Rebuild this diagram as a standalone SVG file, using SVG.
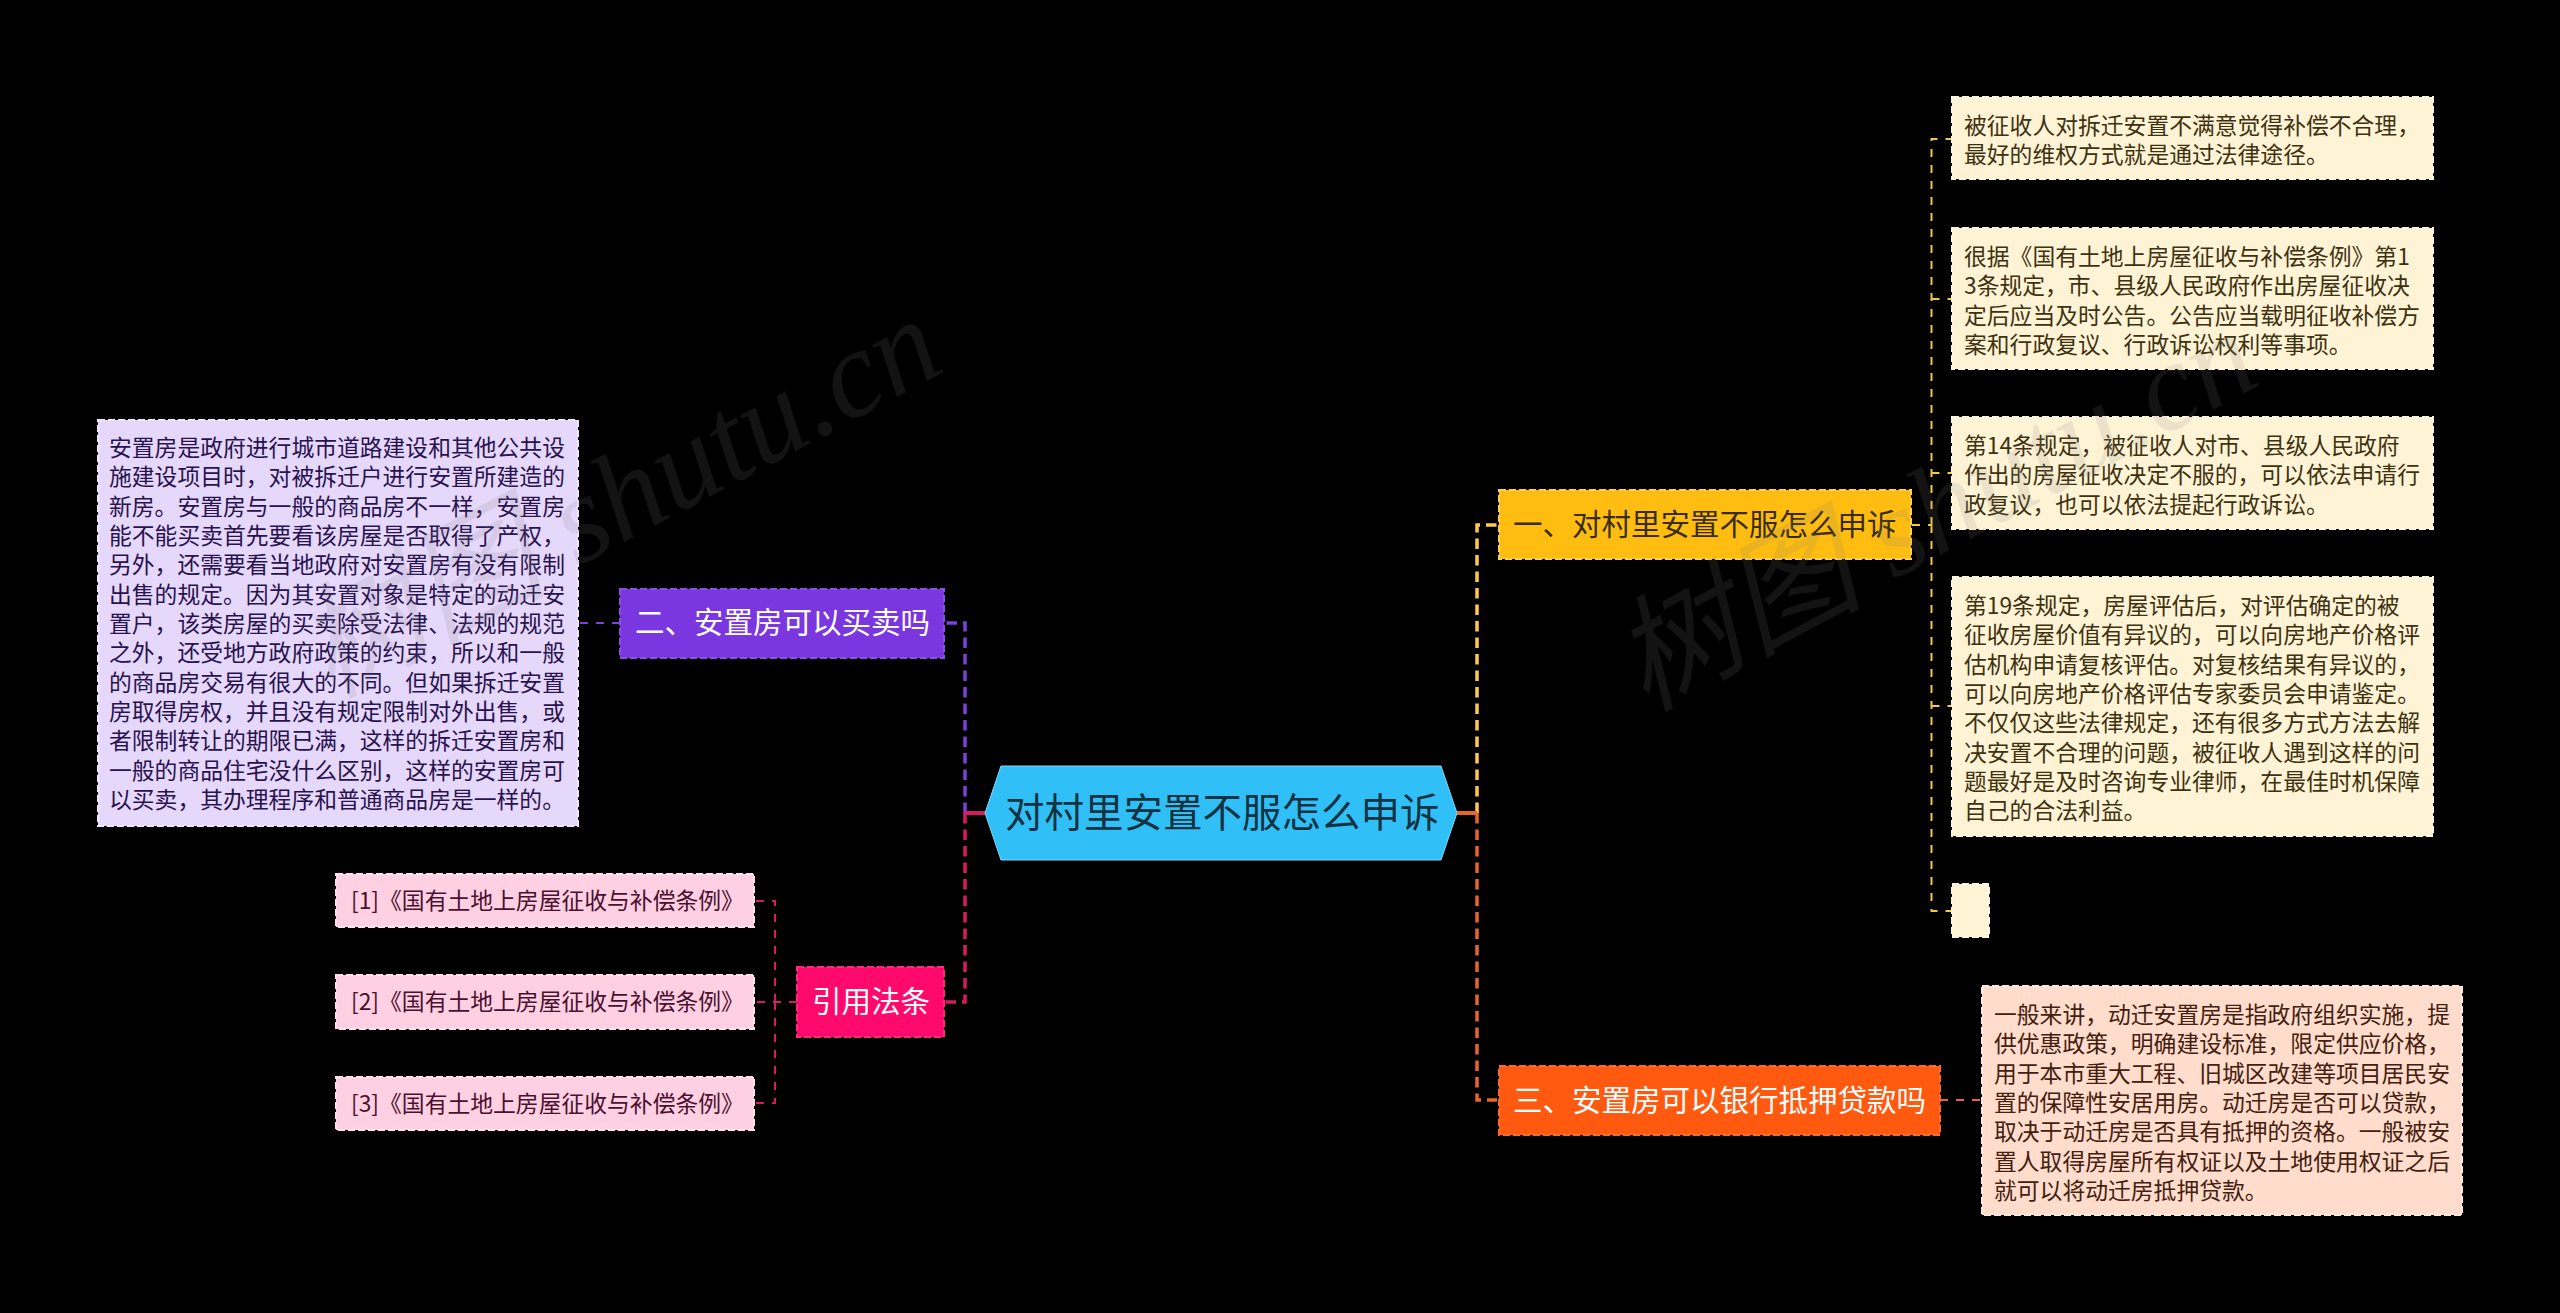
<svg xmlns="http://www.w3.org/2000/svg" width="2560" height="1313" viewBox="0 0 2560 1313">
<style>
text{font-family:"Noto Sans CJK SC","Noto Sans",sans-serif}
.c{fill:none;stroke-width:2;stroke-dasharray:8 8}
.k{fill:none;stroke-width:3.500;stroke-dasharray:10.500 6}
.n{stroke-width:2;stroke-dasharray:7 3}
.t{font-size:22.8px}
.h{font-size:29.500px}
.wm{font-family:"Liberation Serif","Noto Sans CJK SC",serif;font-style:italic;font-size:125px;fill:#808080;fill-opacity:.15}
</style>
<rect width="2560" height="1313" fill="#000"/>
<g id="connectors">
<path class="k" stroke="#ffc94d" d="M1477 813V525H1497"/>
<path class="k" stroke="#e8662a" d="M1477 813V1100H1497"/>
<path class="k" stroke="#7d3fd9" d="M965 813V623H945"/>
<path class="k" stroke="#d81b60" d="M965 813V1002H945"/>
<path d="M1457 813H1477" stroke="#e8662a" stroke-width="4"/>
<path d="M985 813H965" stroke="#d81b60" stroke-width="4"/>
<path class="c" stroke="#f5c842" d="M1912 525H1931.500M1931.500 525V139H1952"/>
<path class="c" stroke="#f5c842" d="M1931.500 299H1952M1931.500 473H1952M1931.500 706H1952"/>
<path class="c" stroke="#f5c842" d="M1931.500 525V911H1952"/>
<path class="c" stroke="#e8662a" d="M1940 1100H1982"/>
<path class="c" stroke="#7d3fd9" d="M620 623H578"/>
<path class="c" stroke="#d81b60" d="M797 1002H754M775 1002V901H754M775 1002V1103H754"/>
</g>
<g id="root">
<polygon points="1001,766 1441,766 1457,813 1441,860 1001,860 985,813" fill="#30c0f7" stroke="#7fd8fa" stroke-width="1"/>
<text x="1005" y="827" font-size="39.500" fill="#14323f">对村里安置不服怎么申诉</text>
</g>
<g id="b1">
<rect class="n" x="1499" y="490" width="412" height="69" fill="#ffbd11" stroke="#ffcf4d"/>
<text class="h" x="1513" y="535" fill="#3a2c05">一、对村里安置不服怎么申诉</text>
</g>
<g id="b2">
<rect class="n" x="620" y="589" width="324" height="69" fill="#7a37e0" stroke="#8a4fe8"/>
<text class="h" x="635" y="633" fill="#fff">二、安置房可以买卖吗</text>
</g>
<g id="b3">
<rect class="n" x="797" y="967" width="147" height="70" fill="#ff0a6c" stroke="#ff2a80"/>
<text class="h" x="812" y="1012" fill="#fff">引用法条</text>
</g>
<g id="b4">
<rect class="n" x="1499" y="1066" width="441" height="69" fill="#ff5a10" stroke="#ff6a28"/>
<text class="h" x="1513" y="1111" fill="#fff">三、安置房可以银行抵押贷款吗</text>
</g>
<g id="r1" fill="#3d3210">
<rect class="n" x="1952" y="97" width="481" height="82" fill="#fff3d6" stroke="#fff6e0"/>
<text class="t" x="1964" y="134">被征收人对拆迁安置不满意觉得补偿不合理，</text>
<text class="t" x="1964" y="163">最好的维权方式就是通过法律途径。</text>
</g>
<g id="r2" fill="#3d3210">
<rect class="n" x="1952" y="228" width="481" height="141" fill="#fff3d6" stroke="#fff6e0"/>
<text class="t" x="1964" y="265">很据《国有土地上房屋征收与补偿条例》第1</text>
<text class="t" x="1964" y="294">3条规定，市、县级人民政府作出房屋征收决</text>
<text class="t" x="1964" y="324">定后应当及时公告。公告应当载明征收补偿方</text>
<text class="t" x="1964" y="353">案和行政复议、行政诉讼权利等事项。</text>
</g>
<g id="r3" fill="#3d3210">
<rect class="n" x="1952" y="417" width="481" height="112" fill="#fff3d6" stroke="#fff6e0"/>
<text class="t" x="1964" y="454">第14条规定，被征收人对市、县级人民政府</text>
<text class="t" x="1964" y="483">作出的房屋征收决定不服的，可以依法申请行</text>
<text class="t" x="1964" y="513">政复议，也可以依法提起行政诉讼。</text>
</g>
<g id="r4" fill="#3d3210">
<rect class="n" x="1952" y="577" width="481" height="259" fill="#fff3d6" stroke="#fff6e0"/>
<text class="t" x="1964" y="614">第19条规定，房屋评估后，对评估确定的被</text>
<text class="t" x="1964" y="643">征收房屋价值有异议的，可以向房地产价格评</text>
<text class="t" x="1964" y="673">估机构申请复核评估。对复核结果有异议的，</text>
<text class="t" x="1964" y="702">可以向房地产价格评估专家委员会申请鉴定。</text>
<text class="t" x="1964" y="731">不仅仅这些法律规定，还有很多方式方法去解</text>
<text class="t" x="1964" y="761">决安置不合理的问题，被征收人遇到这样的问</text>
<text class="t" x="1964" y="790">题最好是及时咨询专业律师，在最佳时机保障</text>
<text class="t" x="1964" y="819">自己的合法利益。</text>
</g>
<g id="r5">
<rect class="n" x="1952" y="884" width="37" height="53" fill="#fff3d6" stroke="#fff6e0"/>
</g>
<g id="r6" fill="#43200f">
<rect class="n" x="1982" y="986" width="480" height="229" fill="#ffdccb" stroke="#ffe6da"/>
<text class="t" x="1994" y="1023">一般来讲，动迁安置房是指政府组织实施，提</text>
<text class="t" x="1994" y="1052">供优惠政策，明确建设标准，限定供应价格，</text>
<text class="t" x="1994" y="1082">用于本市重大工程、旧城区改建等项目居民安</text>
<text class="t" x="1994" y="1111">置的保障性安居用房。动迁房是否可以贷款，</text>
<text class="t" x="1994" y="1140">取决于动迁房是否具有抵押的资格。一般被安</text>
<text class="t" x="1994" y="1170">置人取得房屋所有权证以及土地使用权证之后</text>
<text class="t" x="1994" y="1199">就可以将动迁房抵押贷款。</text>
</g>
<g id="l1" fill="#28124f">
<rect class="n" x="98" y="420" width="480" height="406" fill="#e6d8fb" stroke="#eee4fc"/>
<text class="t" x="109" y="456">安置房是政府进行城市道路建设和其他公共设</text>
<text class="t" x="109" y="485">施建设项目时，对被拆迁户进行安置所建造的</text>
<text class="t" x="109" y="515">新房。安置房与一般的商品房不一样，安置房</text>
<text class="t" x="109" y="544">能不能买卖首先要看该房屋是否取得了产权，</text>
<text class="t" x="109" y="573">另外，还需要看当地政府对安置房有没有限制</text>
<text class="t" x="109" y="603">出售的规定。因为其安置对象是特定的动迁安</text>
<text class="t" x="109" y="632">置户，该类房屋的买卖除受法律、法规的规范</text>
<text class="t" x="109" y="661">之外，还受地方政府政策的约束，所以和一般</text>
<text class="t" x="109" y="691">的商品房交易有很大的不同。但如果拆迁安置</text>
<text class="t" x="109" y="720">房取得房权，并且没有规定限制对外出售，或</text>
<text class="t" x="109" y="749">者限制转让的期限已满，这样的拆迁安置房和</text>
<text class="t" x="109" y="779">一般的商品住宅没什么区别，这样的安置房可</text>
<text class="t" x="109" y="808">以买卖，其办理程序和普通商品房是一样的。</text>
</g>
<g id="p1" fill="#4a1030">
<rect class="n" x="336" y="874" width="418" height="53" fill="#ffcfe2" stroke="#ffe0ec"/>
<text class="t" x="351" y="909">[1]《国有土地上房屋征收与补偿条例》</text>
</g>
<g id="p2" fill="#4a1030">
<rect class="n" x="336" y="975" width="418" height="54" fill="#ffcfe2" stroke="#ffe0ec"/>
<text class="t" x="351" y="1010">[2]《国有土地上房屋征收与补偿条例》</text>
</g>
<g id="p3" fill="#4a1030">
<rect class="n" x="336" y="1077" width="418" height="53" fill="#ffcfe2" stroke="#ffe0ec"/>
<text class="t" x="351" y="1112">[3]《国有土地上房屋征收与补偿条例》</text>
</g>
<g id="watermarks">
<text class="wm" transform="translate(329 699) rotate(-28)">树图 shutu.cn</text>
<text class="wm" transform="translate(1645 712) rotate(-28)">树图 shutu.cn</text>
</g>
</svg>
